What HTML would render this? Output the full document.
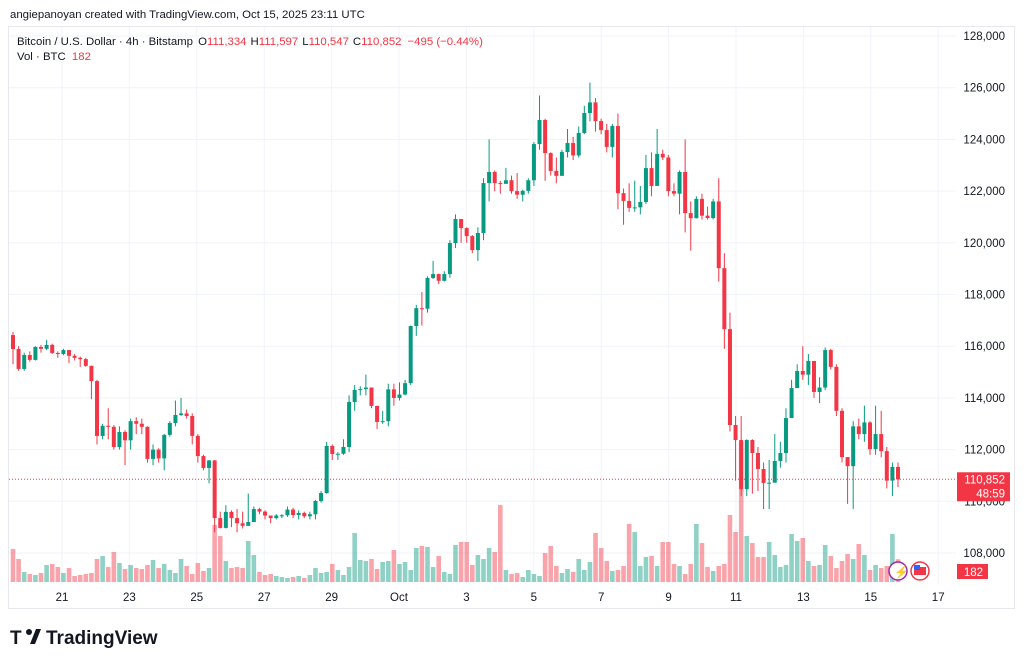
<!DOCTYPE html>
<html><head><meta charset="utf-8"><style>
body{margin:0;background:#fff;font-family:"Liberation Sans",sans-serif}
svg{display:block}
text{font-family:"Liberation Sans",sans-serif}
</style></head><body>
<svg id="c" width="1024" height="665" viewBox="0 0 1024 665">
<text x="10" y="18" font-size="11.4" fill="#131722">angiepanoyan created with TradingView.com, Oct 15, 2025 23:11 UTC</text>
<rect x="8.5" y="26.5" width="1006" height="582" fill="none" stroke="#e6e8ed"/>
<g id="grid"></g>
<g id="vol"></g>
<g id="candles"></g>
<g id="axes"></g>
<text x="17" y="45" font-size="11.4" fill="#131722">Bitcoin / U.S. Dollar · 4h · Bitstamp <tspan dx="2">O</tspan><tspan fill="#f23645">111,334</tspan><tspan dx="4">H</tspan><tspan fill="#f23645">111,597</tspan><tspan dx="4">L</tspan><tspan fill="#f23645">110,547</tspan><tspan dx="4">C</tspan><tspan fill="#f23645">110,852</tspan><tspan dx="6" fill="#f23645">−495 (−0.44%)</tspan></text>
<text x="17" y="60" font-size="11.4" fill="#131722">Vol · BTC <tspan dx="3" fill="#f23645">182</tspan></text>
<g>
<text x="10" y="644" font-size="19" font-weight="bold" fill="#131722">T</text>
<circle cx="29" cy="632" r="3" fill="#131722"/>
<path d="M30 644 L36 629 L41 629 L35 644 Z" fill="#131722"/>
<text x="46" y="644" font-size="19" font-weight="bold" fill="#131722">TradingView</text>
</g>
<g>
<circle cx="898" cy="571" r="9" fill="#fff" stroke="#9c27b0" stroke-width="1.5"/>
<text x="894" y="576" font-size="12" fill="#9c27b0">⚡</text>
<circle cx="920" cy="571" r="9" fill="#fff" stroke="#f23645" stroke-width="1.5"/>
<rect x="914" y="567" width="12" height="8" fill="#f23645"/><rect x="914" y="565" width="6" height="5" fill="#2962ff"/>
</g>
</svg>
<script>
const firstOpen = 116430;
const closes = [115890,115120,115660,115470,115970,115900,116050,115740,115700,115850,115630,115550,115500,115240,114650,112530,112920,112880,112100,112680,112360,113100,113000,112880,111640,112000,111660,112570,113030,113340,113400,113300,112530,111750,111290,111580,109350,108970,109590,109350,109150,109050,109200,109700,109600,109450,109350,109450,109460,109680,109470,109550,109420,109500,110010,110320,112140,111830,111840,112100,113840,114310,114340,114400,113690,113070,113100,114330,114000,114130,114570,116780,117470,117450,118640,118790,118530,118790,119990,120920,120570,120260,119720,120380,122310,122740,122310,122280,122420,122000,121860,122010,122420,123820,124750,123470,122780,122590,123510,123860,123380,124250,125020,125430,124710,124360,123710,124520,121920,121620,121350,121370,121580,122890,122200,123440,123300,122000,121900,122740,121150,120950,121700,121050,120960,121600,119020,116660,112950,112370,110470,112370,111870,111250,110710,110720,111560,111870,113220,114380,115040,114900,115430,114230,114400,115850,115200,113500,111710,111360,112900,112600,113050,112020,112600,111940,110800,111330,110852];
const highs = [116550,116000,115750,115800,116000,116050,116250,116100,115800,115900,115850,115700,115600,115550,115250,114700,113000,113600,112950,112900,112750,113200,113250,113200,112900,112200,112050,112600,113100,113900,114000,113550,113400,112600,111800,111600,111600,109600,109850,109650,109700,109600,110300,109800,109750,109650,109450,109500,109500,109800,109750,109650,109600,109600,110050,110400,112300,112200,111900,112400,114100,114500,114450,114900,114400,113700,113500,114550,114550,114600,114700,116800,117600,118100,118700,119300,118800,118900,120100,121100,120900,120600,120300,120600,122500,124000,122800,122400,122900,122600,122700,122050,122500,123900,125700,124800,123500,123300,123600,124400,124100,124500,125300,126200,125600,124800,124600,124600,125000,122100,122300,122400,122200,123400,123500,124400,123600,123400,122300,122800,124000,121600,121800,121900,121400,121700,122500,119600,117300,113300,113300,112400,112400,112100,111500,111600,112600,112300,113600,114700,115300,116000,115700,115400,114800,115950,115900,115300,113600,111700,113100,113200,113700,113100,113700,113500,112100,111500,111500];
const lows = [115300,115050,115050,115400,115450,115750,115850,115700,115550,115650,115350,115450,115200,115200,113950,112200,112400,112400,112000,112000,111400,112000,112600,112600,111500,111400,111500,111200,112500,112900,113300,113200,112200,111500,111200,110700,108800,108950,108950,109000,108800,108950,109050,109250,109500,109300,109150,109300,109350,109400,109350,109300,109350,109300,109300,109950,110300,111600,111600,111800,111900,113500,114100,114100,113600,112800,113000,112900,113700,113900,114100,114500,116400,116800,117300,118600,118400,118500,118650,119800,120000,120000,119600,119300,120100,121600,122000,121900,122300,121900,121700,121600,121900,122200,123600,122400,122600,122300,122600,123300,123200,123300,124200,124700,124300,124200,123500,123300,121300,120700,121200,121200,121100,121500,121800,122200,123200,121800,121800,121100,120400,119700,120950,120900,120900,120900,118500,115900,112700,110800,110200,110200,110300,110400,109700,109700,110800,111300,111500,113400,114600,114700,114500,114000,113800,114300,115100,113300,111500,109900,109700,112400,112300,111800,111800,111700,110500,110200,110550];
const volumes = [264,184,80,64,56,72,136,144,120,72,112,48,56,64,72,184,208,120,240,152,104,136,112,104,136,176,112,144,96,72,184,128,64,152,88,112,456,368,168,112,120,112,328,216,80,56,64,48,40,32,40,48,32,56,112,72,80,144,96,56,120,392,176,168,184,104,160,168,256,144,160,96,272,288,280,120,208,80,64,296,320,320,136,216,184,272,240,616,96,64,72,40,96,64,48,232,288,128,72,104,80,184,96,160,392,272,168,88,96,128,464,400,128,200,208,128,320,320,144,128,64,144,464,312,120,88,128,144,536,400,1120,368,312,200,200,320,216,120,136,384,328,352,168,128,136,296,208,112,168,224,184,304,216,96,136,112,128,384,182];
const priceTicks = [108000,110000,112000,114000,116000,118000,120000,122000,124000,126000,128000];
const dateLabels = ["21","23","25","27","29","Oct","3","5","7","9","11","13","15","17"];
const lastPrice = 110852;

const NS="http://www.w3.org/2000/svg";
function mk(tag,attrs,parent){const e=document.createElementNS(NS,tag);for(const k in attrs)e.setAttribute(k,attrs[k]);parent.appendChild(e);return e;}
const yP = p => 36 + (128000 - p) / 1000 * 25.85;
const N = closes.length;
const xC = i => 13 + i * (885 / (N - 1));
const xD = j => 62 + j * 67.4;
const yV = v => 582 - v / 8;

const grid=document.getElementById('grid'), axes=document.getElementById('axes');
priceTicks.forEach(p=>{
  const l=mk('line',{x1:9,x2:956,y1:yP(p),y2:yP(p),stroke:'#f0f3fa','stroke-width':1},grid);
  
  
  const t=mk('text',{x:1005,y:yP(p)+4,'font-size':11.5,fill:'#131722','text-anchor':'end'},axes);
  t.textContent=p.toLocaleString('en-US');
  
  
});
dateLabels.forEach((d,j)=>{
  const l=mk('line',{x1:xD(j),x2:xD(j),y1:27,y2:585,stroke:'#f0f3fa','stroke-width':1},grid);
  
  
  const t=mk('text',{x:xD(j),y:601,'font-size':11.5,fill:'#131722','text-anchor':'middle'},axes);
  t.textContent=d;
  
  
});

const vg=document.getElementById('vol'), cg=document.getElementById('candles');
for(let i=0;i<N;i++){
  const o = i===0 ? firstOpen : closes[i-1], c = closes[i];
  const up = c >= o, col = up ? '#089981' : '#f23645';
  const x = xC(i);
  if (i < volumes.length){
    const r=mk('rect',{x:x-2.3,y:yV(volumes[i]),width:4.6,height:582-yV(volumes[i]),fill:up?'rgba(8,153,129,0.45)':'rgba(242,54,69,0.45)'},vg);
    
    
  }
  const w=mk('line',{x1:x,x2:x,y1:yP(highs[i]),y2:yP(lows[i]),stroke:col,'stroke-width':1},cg);
  
  
  const top=yP(Math.max(o,c)), bot=yP(Math.min(o,c));
  const b=mk('rect',{x:x-2,y:top,width:4,height:Math.max(1,bot-top),fill:col},cg);
  
  
}
const yl=yP(lastPrice);
const pl=mk('line',{x1:9,x2:956,y1:yl,y2:yl,stroke:'#f23645','stroke-width':1,'stroke-dasharray':'1 2'},axes);


const pb=mk('rect',{x:957,y:yl-7,width:53,height:29,fill:'#f23645'},axes);


const pt=mk('text',{x:1005,y:yl+4,'font-size':11.5,fill:'#fff','text-anchor':'end'},axes);
pt.textContent=lastPrice.toLocaleString('en-US');


const ct=mk('text',{x:1005,y:yl+18,'font-size':11.5,fill:'#fff','text-anchor':'end'},axes);
ct.textContent='48:59';


const vb=mk('rect',{x:957,y:564,width:31,height:15,fill:'#f23645'},axes);


const vt=mk('text',{x:983,y:576,'font-size':11.5,fill:'#fff','text-anchor':'end'},axes);
vt.textContent=volumes[volumes.length-1];


</script>
</body></html>
